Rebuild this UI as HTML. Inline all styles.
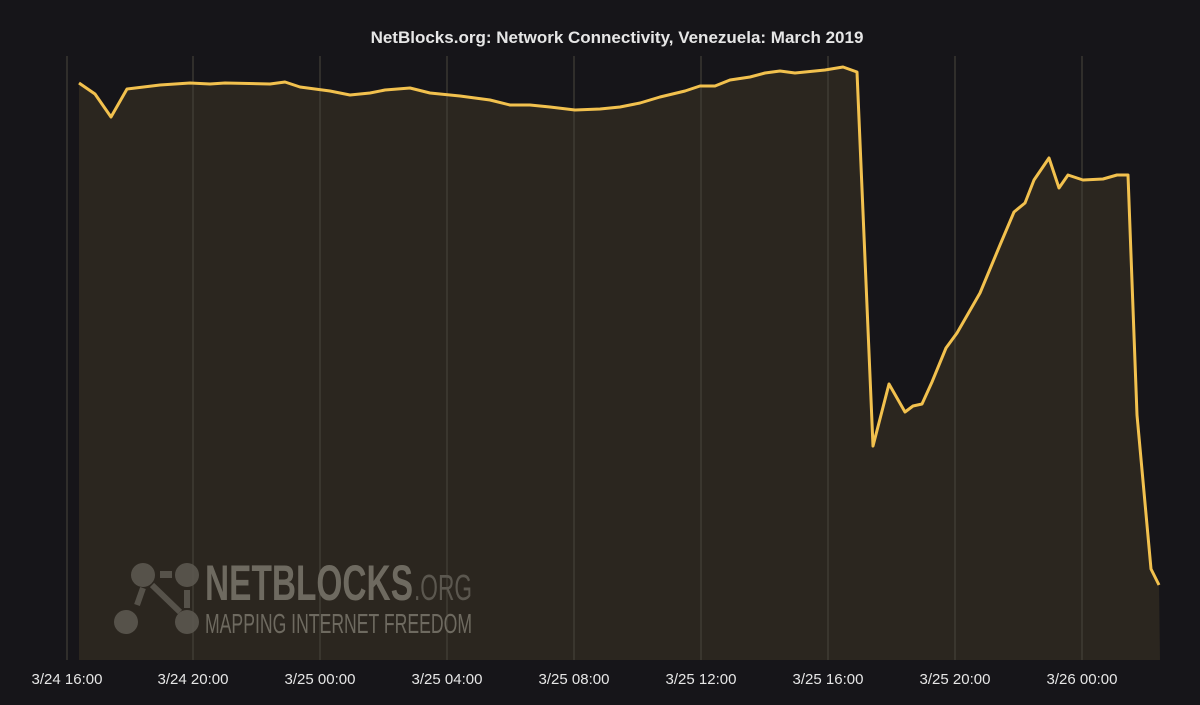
<!DOCTYPE html>
<html><head><meta charset="utf-8"><style>
html,body{margin:0;padding:0;background:#161519;}
svg{display:block}
</style></head><body>
<svg width="1200" height="705" viewBox="0 0 1200 705" xmlns="http://www.w3.org/2000/svg">
<rect width="1200" height="705" fill="#161519"/>
<text x="617" y="43" text-anchor="middle" font-family="Liberation Sans, sans-serif" font-weight="bold" font-size="17" fill="#e6e6e6">NetBlocks.org: Network Connectivity, Venezuela: March 2019</text>
<polygon fill="#2b261f" points="79,660 79,83 95,94 111,117 127,89 160,85 190,83 210,84 225,83 270,84 285,82 300,87 330,91 350,95 370,93 385,90 410,88 430,93 460,96 490,100 510,105 530,105 550,107 575,110 600,109 620,107 640,103 660,97 685,91 700,86 715,86 730,80 750,77 765,73 780,71 795,73 825,70 843,67 857,72 873,446 889,384 905,412 913,406 922,404 932,382 946,348 957,333 980,293 1000,245 1014,212 1025,203 1034,180 1049,158 1059,188 1068,175 1083,180 1103,179 1117,175 1128,175 1137,415 1151,569 1159,585 1160,660"/>
<g stroke="#4a463d" stroke-width="1">
<line x1="67" y1="56" x2="67" y2="660"/><line x1="193" y1="56" x2="193" y2="660"/><line x1="320" y1="56" x2="320" y2="660"/><line x1="447" y1="56" x2="447" y2="660"/><line x1="574" y1="56" x2="574" y2="660"/><line x1="701" y1="56" x2="701" y2="660"/><line x1="828" y1="56" x2="828" y2="660"/><line x1="955" y1="56" x2="955" y2="660"/><line x1="1082" y1="56" x2="1082" y2="660"/>
</g>
<g fill="#5e5a52" opacity="0.85">
<circle cx="126" cy="622" r="12"/><circle cx="143" cy="575" r="12"/><circle cx="187" cy="575" r="12"/><circle cx="187" cy="622" r="12"/>
<rect x="160" y="571" width="12" height="7"/>
<line x1="137" y1="605" x2="143" y2="588" stroke="#5e5a52" stroke-width="6"/>
<line x1="152" y1="585" x2="180" y2="612" stroke="#5e5a52" stroke-width="6"/>
<line x1="187" y1="590" x2="187" y2="608" stroke="#5e5a52" stroke-width="6"/>
</g>
<text x="205" y="600" font-family="Liberation Sans, sans-serif" font-weight="bold" font-size="50" fill="#6e6a60" textLength="208" lengthAdjust="spacingAndGlyphs">NETBLOCKS</text>
<text x="414" y="600" font-family="Liberation Sans, sans-serif" font-size="36" fill="#5b574f" textLength="58" lengthAdjust="spacingAndGlyphs">.ORG</text>
<text x="205" y="633" font-family="Liberation Sans, sans-serif" font-size="28" fill="#6e6a60" textLength="267" lengthAdjust="spacingAndGlyphs">MAPPING INTERNET FREEDOM</text>
<polyline fill="none" stroke="#f2c14e" stroke-width="3" stroke-linejoin="round" points="79,83 95,94 111,117 127,89 160,85 190,83 210,84 225,83 270,84 285,82 300,87 330,91 350,95 370,93 385,90 410,88 430,93 460,96 490,100 510,105 530,105 550,107 575,110 600,109 620,107 640,103 660,97 685,91 700,86 715,86 730,80 750,77 765,73 780,71 795,73 825,70 843,67 857,72 873,446 889,384 905,412 913,406 922,404 932,382 946,348 957,333 980,293 1000,245 1014,212 1025,203 1034,180 1049,158 1059,188 1068,175 1083,180 1103,179 1117,175 1128,175 1137,415 1151,569 1159,585"/>
<g font-family="Liberation Sans, sans-serif" font-size="15" fill="#e6e6e6" text-anchor="middle">
<text x="67" y="684">3/24 16:00</text><text x="193" y="684">3/24 20:00</text><text x="320" y="684">3/25 00:00</text><text x="447" y="684">3/25 04:00</text><text x="574" y="684">3/25 08:00</text><text x="701" y="684">3/25 12:00</text><text x="828" y="684">3/25 16:00</text><text x="955" y="684">3/25 20:00</text><text x="1082" y="684">3/26 00:00</text>
</g>
</svg>
</body></html>
